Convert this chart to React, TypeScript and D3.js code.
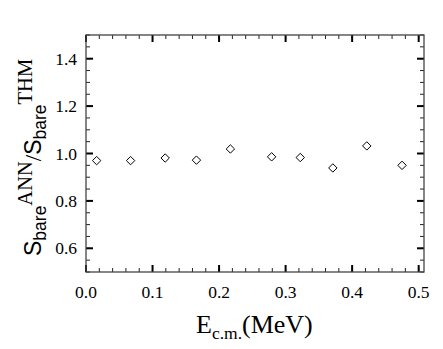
import React from 'react';
import * as d3 from 'd3';

// energies (MeV) and ANN/THM ratio
const energies = [0.016, 0.067, 0.119, 0.166, 0.217, 0.279, 0.322, 0.371, 0.422, 0.475];
const ratios = [0.970, 0.970, 0.981, 0.972, 1.019, 0.986, 0.983, 0.939, 1.032, 0.950];

const xMajor = [0, 0.1, 0.2, 0.3, 0.4, 0.5];
const yMajor = [0.6, 0.8, 1.0, 1.2, 1.4];

const W = 443;
const H = 349;
const margin = { top: 35, right: 19, bottom: 77, left: 86 };

const serif = "'Liberation Serif', 'Times New Roman', Times, serif";
const sans = "'Liberation Sans', Arial, sans-serif";

const App = () => {
  const x = d3.scaleLinear().domain([0, 0.508]).range([margin.left, W - margin.right]);
  const y = d3.scaleLinear().domain([0.5, 1.5]).range([H - margin.bottom, margin.top]);

  const x0 = margin.left;
  const x1 = W - margin.right;
  const y0 = H - margin.bottom;
  const y1 = margin.top;

  const xMinor = d3.range(0, 26).map(i => i * 0.02).filter(v => x(v) <= x1);
  const yMinor = d3.range(0, 21).map(i => 0.5 + i * 0.05);

  const diamond = (cx, cy) => `M${cx},${cy - 4.2}L${cx + 4.2},${cy}L${cx},${cy + 4.2}L${cx - 4.2},${cy}Z`;

  return (
    <svg width={W} height={H} style={{ position: 'absolute', left: 0, top: 0 }}>
      <rect width={W} height={H} fill="#fff" />
      {/* minor ticks, all four sides */}
      <g stroke="#222" strokeWidth={1}>
        {xMinor.map((v, i) => (
          <g key={'xm' + i}>
            <line x1={x(v)} x2={x(v)} y1={y0} y2={y0 - 4} />
            <line x1={x(v)} x2={x(v)} y1={y1} y2={y1 + 4} />
          </g>
        ))}
        {yMinor.map((v, i) => (
          <g key={'ym' + i}>
            <line x1={x0} x2={x0 + 4} y1={y(v)} y2={y(v)} />
            <line x1={x1} x2={x1 - 4} y1={y(v)} y2={y(v)} />
          </g>
        ))}
      </g>
      <g stroke="#000" strokeWidth={2}>
        {xMajor.map((v, i) => (
          <g key={'xM' + i}>
            <line x1={x(v)} x2={x(v)} y1={y0} y2={y0 - 7} />
            <line x1={x(v)} x2={x(v)} y1={y1} y2={y1 + 7} />
          </g>
        ))}
        {yMajor.map((v, i) => (
          <g key={'yM' + i}>
            <line x1={x0} x2={x0 + 7} y1={y(v)} y2={y(v)} />
            <line x1={x1} x2={x1 - 7} y1={y(v)} y2={y(v)} />
          </g>
        ))}
      </g>
      <rect x={x0} y={y1} width={x1 - x0} height={y0 - y1} fill="none" stroke="#444" strokeWidth={1.3} />

      {/* tick labels */}
      <g style={{ fontFamily: serif, fontSize: 17.5 }} fill="#000">
        {xMajor.map((v, i) => (
          <text key={'xl' + i} x={x(v)} y={298} textAnchor="middle">{v.toFixed(1)}</text>
        ))}
        {yMajor.map((v, i) => (
          <text key={'yl' + i} x={77} y={y(v) + 6} textAnchor="end">{v.toFixed(1)}</text>
        ))}
      </g>

      {/* data */}
      <g fill="#fff" stroke="#000" strokeWidth={1}>
        {energies.map((e, i) => (
          <path key={'p' + i} d={diamond(x(e), y(ratios[i]))} />
        ))}
      </g>

      {/* x label */}
      <text x={196} y={333} style={{ fontFamily: serif, fontSize: 26 }} fill="#000">
        E<tspan style={{ fontSize: 17.5 }} dy={6}>c.m.</tspan><tspan dy={-6}>(MeV)</tspan>
      </text>

      {/* y label */}
      <text transform={`translate(41,256) rotate(-90)`} style={{ fontFamily: sans, fontSize: 23 }} fill="#000">
        S<tspan style={{ fontSize: 17.5 }} dy={5}>bare</tspan>
        <tspan style={{ fontFamily: serif, fontSize: 20.5 }} dy={-14}>ANN</tspan>
        <tspan style={{ fontFamily: serif }} dy={9}>/</tspan>
        <tspan>S</tspan>
        <tspan style={{ fontSize: 17.5 }} dy={5}>bare</tspan>
        <tspan style={{ fontFamily: serif, fontSize: 20.5 }} dy={-14}>THM</tspan>
      </text>
    </svg>
  );
};

export default App;
